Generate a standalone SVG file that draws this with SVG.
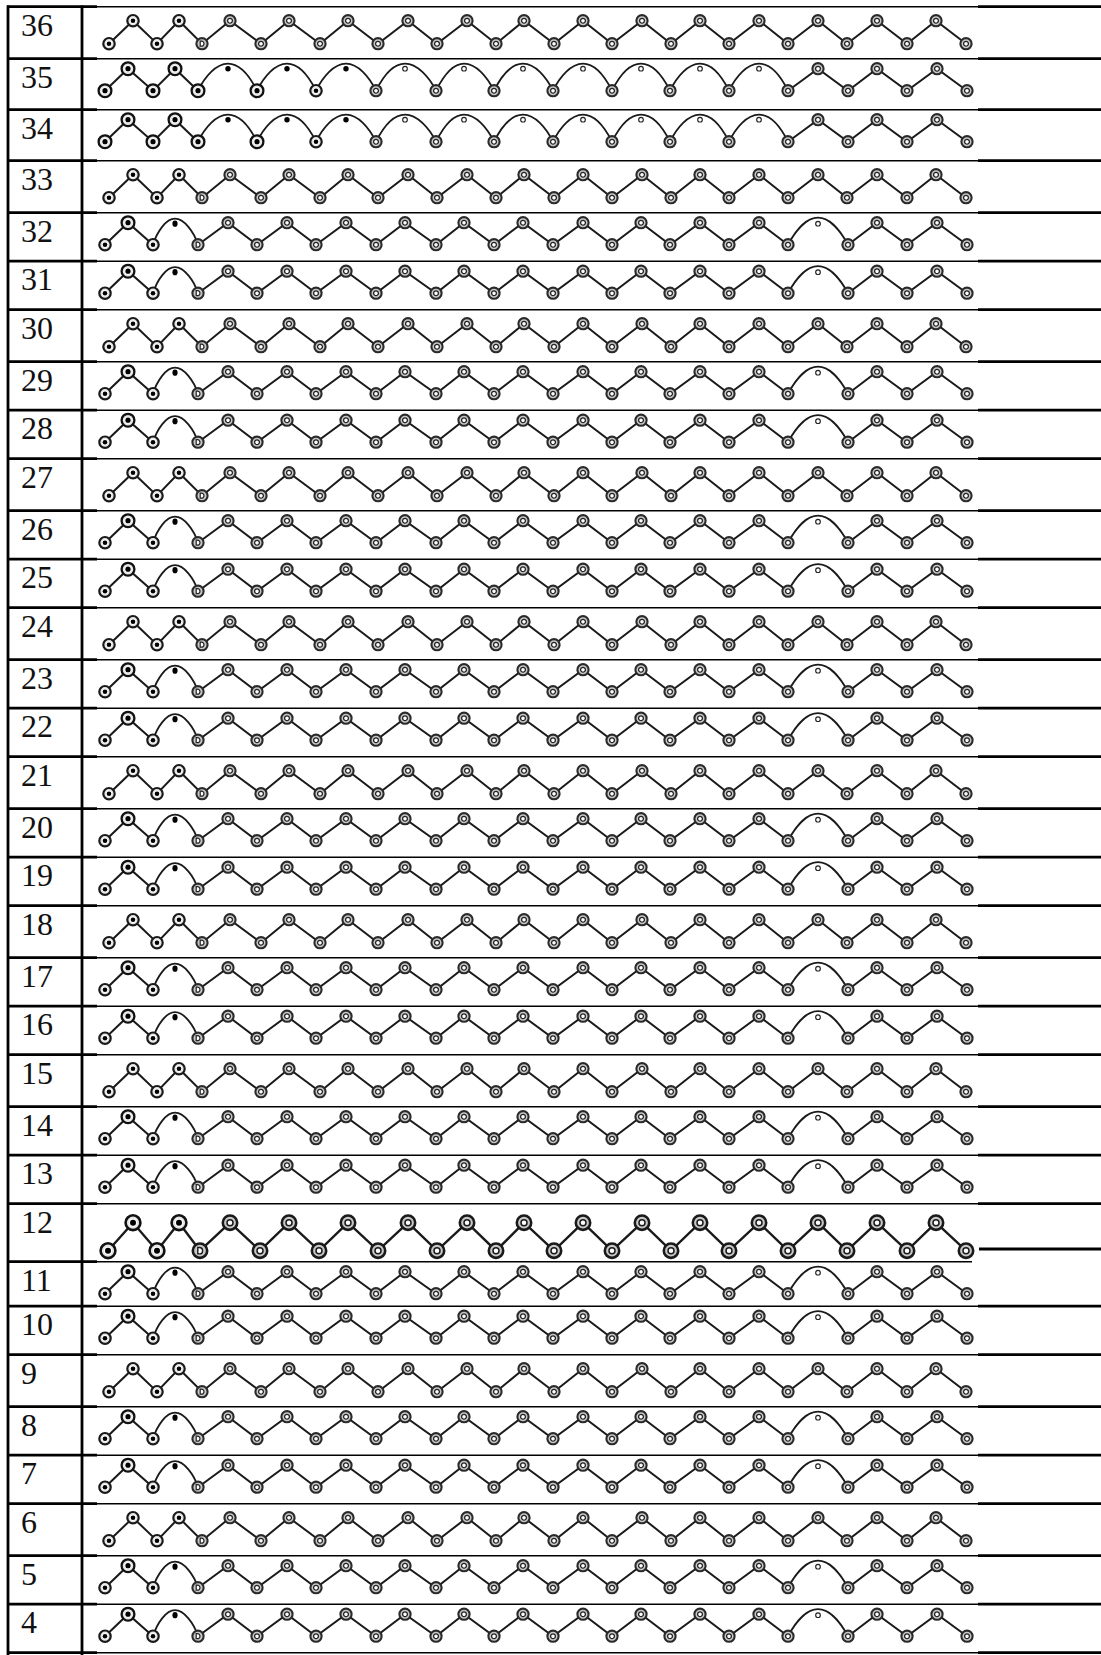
<svg xmlns="http://www.w3.org/2000/svg" xmlns:xlink="http://www.w3.org/1999/xlink" width="1101" height="1655" viewBox="0 0 1101 1655">
<style>
.lbl{font-family:"Liberation Serif","Times New Roman",serif;font-size:32px;fill:#111}
.zz{fill:none;stroke:#1a1a1a;stroke-width:2;stroke-linejoin:miter;stroke-linecap:round}
.zzb{fill:none;stroke:#1a1a1a;stroke-width:2.4;stroke-linejoin:miter;stroke-linecap:round}
.arc{fill:none;stroke:#1a1a1a;stroke-width:1.8}
.thin{stroke:#000;stroke-width:1.4;fill:none}
.thick{stroke:#000;stroke-width:2.8;fill:none}
</style>
<defs>
<g id="nF"><circle r="5.7" fill="#e6e6e6" stroke="#1a1a1a" stroke-width="2.2"/><circle r="3.1" fill="#fff"/><circle r="2.3" fill="#000"/></g>
<g id="nFL"><circle r="6.4" fill="#e6e6e6" stroke="#111" stroke-width="2.3"/><circle r="3.5" fill="#fff"/><circle r="2.6" fill="#000"/></g>
<g id="nR"><circle r="5.6" fill="#c8c8c8" stroke="#2a2a2a" stroke-width="2.1"/><circle r="2.4" fill="#fff" stroke="#222" stroke-width="1.3"/></g>
<g id="nD"><circle r="5.6" fill="#c8c8c8" stroke="#2a2a2a" stroke-width="2.1"/><path d="M-1.8,-2.5h1.3a2.5,2.5 0 0 1 0,5h-1.3z" fill="#fff" stroke="#222" stroke-width="1.2"/></g>
<g id="nFB"><circle r="7.4" fill="#e6e6e6" stroke="#111" stroke-width="2.6"/><circle r="4" fill="#fff"/><circle r="3" fill="#000"/></g>
<g id="nRB"><circle r="7.2" fill="#c8c8c8" stroke="#1a1a1a" stroke-width="2.6"/><circle r="3" fill="#fff" stroke="#1a1a1a" stroke-width="1.5"/></g>
<g id="nDB"><circle r="7.2" fill="#c8c8c8" stroke="#1a1a1a" stroke-width="2.6"/><path d="M-2.2,-3.2h1.6a3.2,3.2 0 0 1 0,6.4h-1.6z" fill="#fff" stroke="#1a1a1a" stroke-width="1.4"/></g>
<circle id="dR" r="2.3" fill="#fff" stroke="#222" stroke-width="1.2"/>
<circle id="dB" r="2.7" fill="#000"/>
<ellipse id="dT" rx="2.6" ry="3.1" fill="#000"/>

<g id="pPlain">
<polyline class="zz" points="109,37 133,14 157,37 179,14 202,37 230,14 261,37 289,14 320,37 348,14 378,37 408,14 437,37 467,14 496,37 524,14 554,37 583,14 612,37 642,14 671,37 700,14 729,37 759,14 788,37 818,14 847,37 877,14 907,37 936,14 966,37"/>
<use href="#nF" x="109" y="37"/><use href="#nF" x="133" y="14"/><use href="#nF" x="157" y="37"/><use href="#nF" x="179" y="14"/><use href="#nD" x="202" y="37"/>
<use href="#nR" x="230" y="14"/><use href="#nR" x="289" y="14"/><use href="#nR" x="348" y="14"/><use href="#nR" x="408" y="14"/><use href="#nR" x="467" y="14"/><use href="#nR" x="524" y="14"/><use href="#nR" x="583" y="14"/><use href="#nR" x="642" y="14"/><use href="#nR" x="700" y="14"/><use href="#nR" x="759" y="14"/><use href="#nR" x="818" y="14"/><use href="#nR" x="877" y="14"/><use href="#nR" x="936" y="14"/>
<use href="#nR" x="261" y="37"/><use href="#nR" x="320" y="37"/><use href="#nR" x="378" y="37"/><use href="#nR" x="437" y="37"/><use href="#nR" x="496" y="37"/><use href="#nR" x="554" y="37"/><use href="#nR" x="612" y="37"/><use href="#nR" x="671" y="37"/><use href="#nR" x="729" y="37"/><use href="#nR" x="788" y="37"/><use href="#nR" x="847" y="37"/><use href="#nR" x="907" y="37"/><use href="#nR" x="966" y="37"/>
</g>

<g id="pBig">
<polyline class="zzb" points="108,47 133,19 157,47 179,19 200,47 230,19 260,47 289,19 319,47 348,19 378,47 408,19 437,47 467,19 496,47 524,19 554,47 583,19 612,47 642,19 671,47 700,19 729,47 759,19 788,47 818,19 847,47 877,19 907,47 936,19 966,47"/>
<use href="#nFB" x="108" y="47"/><use href="#nFB" x="133" y="19"/><use href="#nFB" x="157" y="47"/><use href="#nFB" x="179" y="19"/><use href="#nDB" x="200" y="47"/>
<use href="#nRB" x="230" y="19"/><use href="#nRB" x="289" y="19"/><use href="#nRB" x="348" y="19"/><use href="#nRB" x="408" y="19"/><use href="#nRB" x="467" y="19"/><use href="#nRB" x="524" y="19"/><use href="#nRB" x="583" y="19"/><use href="#nRB" x="642" y="19"/><use href="#nRB" x="700" y="19"/><use href="#nRB" x="759" y="19"/><use href="#nRB" x="818" y="19"/><use href="#nRB" x="877" y="19"/><use href="#nRB" x="936" y="19"/>
<use href="#nRB" x="260" y="47"/><use href="#nRB" x="319" y="47"/><use href="#nRB" x="378" y="47"/><use href="#nRB" x="437" y="47"/><use href="#nRB" x="496" y="47"/><use href="#nRB" x="554" y="47"/><use href="#nRB" x="612" y="47"/><use href="#nRB" x="671" y="47"/><use href="#nRB" x="729" y="47"/><use href="#nRB" x="788" y="47"/><use href="#nRB" x="847" y="47"/><use href="#nRB" x="907" y="47"/><use href="#nRB" x="966" y="47"/>
</g>

<g id="pSA">
<polyline class="zz" points="105,32 128,10 153,32"/>
<path class="arc" d="M153,32C157,19 166,6 175,6C184,6 194,19 198,32"/>
<polyline class="zz" points="198,32 228,10 257,32 287,10 316,32 346,10 376,32 405,10 436,32 464,10 494,32 523,10 553,32 583,10 612,32 641,10 670,32 700,10 729,32 759,10 788,32"/>
<path class="arc" d="M788,32C795,19 806,5 818,5C830,5 841,19 848,32"/>
<polyline class="zz" points="848,32 877,10 907,32 937,10 967,32"/>
<use href="#nF" x="105" y="32"/><use href="#nFL" x="128" y="10"/><use href="#nF" x="153" y="32"/><use href="#dT" x="175" y="11"/><use href="#nD" x="198" y="32"/>
<use href="#nR" x="228" y="10"/><use href="#nR" x="287" y="10"/><use href="#nR" x="346" y="10"/><use href="#nR" x="405" y="10"/><use href="#nR" x="464" y="10"/><use href="#nR" x="523" y="10"/><use href="#nR" x="583" y="10"/><use href="#nR" x="641" y="10"/><use href="#nR" x="700" y="10"/><use href="#nR" x="759" y="10"/><use href="#dR" x="818" y="11"/><use href="#nR" x="877" y="10"/><use href="#nR" x="937" y="10"/>
<use href="#nR" x="257" y="32"/><use href="#nR" x="316" y="32"/><use href="#nR" x="376" y="32"/><use href="#nR" x="436" y="32"/><use href="#nR" x="494" y="32"/><use href="#nR" x="553" y="32"/><use href="#nR" x="612" y="32"/><use href="#nR" x="670" y="32"/><use href="#nR" x="729" y="32"/><use href="#nR" x="788" y="32"/><use href="#nR" x="848" y="32"/><use href="#nR" x="907" y="32"/><use href="#nR" x="967" y="32"/>
</g>

<g id="pMA">
<polyline class="zz" points="105,32 128,10 153,32 175,10 198,32"/>
<path class="arc" d="M198,32C205,18 216,5 228,5C240,5 250,18 257,32C264,18 275,5 287,5C299,5 309,18 316,32C323,18 334,5 346,5C358,5 369,18 376,32C383,18 393,5 405,5C417,5 429,18 436,32C443,18 452,5 464,5C476,5 487,18 494,32C501,18 511,5 523,5C535,5 546,18 553,32C560,18 571,5 583,5C595,5 605,18 612,32C619,18 629,5 641,5C653,5 663,18 670,32C677,18 688,5 700,5C712,5 722,18 729,32C736,18 747,5 759,5C771,5 781,18 788,32"/>
<polyline class="zz" points="788,32 818,10 848,32 877,10 907,32 937,10 967,32"/>
<use href="#nFL" x="105" y="32"/><use href="#nFL" x="128" y="10"/><use href="#nFL" x="153" y="32"/><use href="#nFL" x="175" y="10"/><use href="#nFL" x="198" y="32"/><use href="#nFL" x="257" y="32"/><use href="#nF" x="316" y="32"/>
<use href="#dB" x="228" y="10"/><use href="#dB" x="287" y="10"/><use href="#dB" x="346" y="10"/>
<use href="#dR" x="405" y="10"/><use href="#dR" x="464" y="10"/><use href="#dR" x="523" y="10"/><use href="#dR" x="583" y="10"/><use href="#dR" x="641" y="10"/><use href="#dR" x="700" y="10"/><use href="#dR" x="759" y="10"/>
<use href="#nR" x="376" y="32"/><use href="#nR" x="436" y="32"/><use href="#nR" x="494" y="32"/><use href="#nR" x="553" y="32"/><use href="#nR" x="612" y="32"/><use href="#nR" x="670" y="32"/><use href="#nR" x="729" y="32"/><use href="#nR" x="788" y="32"/><use href="#nR" x="848" y="32"/><use href="#nR" x="907" y="32"/><use href="#nR" x="967" y="32"/>
<use href="#nR" x="818" y="10"/><use href="#nR" x="877" y="10"/><use href="#nR" x="937" y="10"/>
</g>
</defs>

<rect width="1101" height="1655" fill="#fff"/>

<g id="grid">
<path class="thin" d="M7,6.7H980M7,58.7H980M7,109.7H980M7,160.7H980M7,212.7H980M7,261.2H980M7,309.7H980M7,361.7H980M7,410.2H980M7,458.7H980M7,510.7H980M7,559.2H980M7,607.7H980M7,659.7H980M7,708.2H980M7,756.7H980M7,808.7H980M7,857.2H980M7,905.7H980M7,957.7H980M7,1006.2H980M7,1054.7H980M7,1106.7H980M7,1155.2H980M7,1203.7H980M7,1261.7H972M7,1306.2H980M7,1354.7H980M7,1406.7H980M7,1455.2H980M7,1503.7H980M7,1555.7H980M7,1604.2H980M7,1652.7H980"/>
<path class="thick" d="M7,6.7H97M978,6.7H1101M7,58.7H97M978,58.7H1101M7,109.7H97M978,109.7H1101M7,160.7H97M978,160.7H1101M7,212.7H97M978,212.7H1101M7,261.2H97M978,261.2H1101M7,309.7H97M978,309.7H1101M7,361.7H97M978,361.7H1101M7,410.2H97M978,410.2H1101M7,458.7H97M978,458.7H1101M7,510.7H97M978,510.7H1101M7,559.2H97M978,559.2H1101M7,607.7H97M978,607.7H1101M7,659.7H97M978,659.7H1101M7,708.2H97M978,708.2H1101M7,756.7H97M978,756.7H1101M7,808.7H97M978,808.7H1101M7,857.2H97M978,857.2H1101M7,905.7H97M978,905.7H1101M7,957.7H97M978,957.7H1101M7,1006.2H97M978,1006.2H1101M7,1054.7H97M978,1054.7H1101M7,1106.7H97M978,1106.7H1101M7,1155.2H97M978,1155.2H1101M7,1203.7H97M978,1203.7H1101M7,1261.7H97M979,1249H1101M7,1306.2H97M978,1306.2H1101M7,1354.7H97M978,1354.7H1101M7,1406.7H97M978,1406.7H1101M7,1455.2H97M978,1455.2H1101M7,1503.7H97M978,1503.7H1101M7,1555.7H97M978,1555.7H1101M7,1604.2H97M978,1604.2H1101M7,1652.7H97M978,1652.7H1101"/>
<path class="thick" d="M8,5.5V1655M82,5.5V1655"/>
</g>

<g id="row-36"><text class="lbl" x="21" y="35.7">36</text><use href="#pPlain" transform="translate(0,6.7)"/></g>
<g id="row-35"><text class="lbl" x="21" y="87.7">35</text><use href="#pMA" transform="translate(0,58.7)"/></g>
<g id="row-34"><text class="lbl" x="21" y="138.7">34</text><use href="#pMA" transform="translate(0,109.7)"/></g>
<g id="row-33"><text class="lbl" x="21" y="189.7">33</text><use href="#pPlain" transform="translate(0,160.7)"/></g>
<g id="row-32"><text class="lbl" x="21" y="241.7">32</text><use href="#pSA" transform="translate(0,212.7)"/></g>
<g id="row-31"><text class="lbl" x="21" y="290.2">31</text><use href="#pSA" transform="translate(0,261.2)"/></g>
<g id="row-30"><text class="lbl" x="21" y="338.7">30</text><use href="#pPlain" transform="translate(0,309.7)"/></g>
<g id="row-29"><text class="lbl" x="21" y="390.7">29</text><use href="#pSA" transform="translate(0,361.7)"/></g>
<g id="row-28"><text class="lbl" x="21" y="439.2">28</text><use href="#pSA" transform="translate(0,410.2)"/></g>
<g id="row-27"><text class="lbl" x="21" y="487.7">27</text><use href="#pPlain" transform="translate(0,458.7)"/></g>
<g id="row-26"><text class="lbl" x="21" y="539.7">26</text><use href="#pSA" transform="translate(0,510.7)"/></g>
<g id="row-25"><text class="lbl" x="21" y="588.2">25</text><use href="#pSA" transform="translate(0,559.2)"/></g>
<g id="row-24"><text class="lbl" x="21" y="636.7">24</text><use href="#pPlain" transform="translate(0,607.7)"/></g>
<g id="row-23"><text class="lbl" x="21" y="688.7">23</text><use href="#pSA" transform="translate(0,659.7)"/></g>
<g id="row-22"><text class="lbl" x="21" y="737.2">22</text><use href="#pSA" transform="translate(0,708.2)"/></g>
<g id="row-21"><text class="lbl" x="21" y="785.7">21</text><use href="#pPlain" transform="translate(0,756.7)"/></g>
<g id="row-20"><text class="lbl" x="21" y="837.7">20</text><use href="#pSA" transform="translate(0,808.7)"/></g>
<g id="row-19"><text class="lbl" x="21" y="886.2">19</text><use href="#pSA" transform="translate(0,857.2)"/></g>
<g id="row-18"><text class="lbl" x="21" y="934.7">18</text><use href="#pPlain" transform="translate(0,905.7)"/></g>
<g id="row-17"><text class="lbl" x="21" y="986.7">17</text><use href="#pSA" transform="translate(0,957.7)"/></g>
<g id="row-16"><text class="lbl" x="21" y="1035.2">16</text><use href="#pSA" transform="translate(0,1006.2)"/></g>
<g id="row-15"><text class="lbl" x="21" y="1083.7">15</text><use href="#pPlain" transform="translate(0,1054.7)"/></g>
<g id="row-14"><text class="lbl" x="21" y="1135.7">14</text><use href="#pSA" transform="translate(0,1106.7)"/></g>
<g id="row-13"><text class="lbl" x="21" y="1184.2">13</text><use href="#pSA" transform="translate(0,1155.2)"/></g>
<g id="row-12"><text class="lbl" x="21" y="1232.7">12</text><use href="#pBig" transform="translate(0,1203.7)"/></g>
<g id="row-11"><text class="lbl" x="21" y="1290.7">11</text><use href="#pSA" transform="translate(0,1261.7)"/></g>
<g id="row-10"><text class="lbl" x="21" y="1335.2">10</text><use href="#pSA" transform="translate(0,1306.2)"/></g>
<g id="row-9"><text class="lbl" x="21" y="1383.7">9</text><use href="#pPlain" transform="translate(0,1354.7)"/></g>
<g id="row-8"><text class="lbl" x="21" y="1435.7">8</text><use href="#pSA" transform="translate(0,1406.7)"/></g>
<g id="row-7"><text class="lbl" x="21" y="1484.2">7</text><use href="#pSA" transform="translate(0,1455.2)"/></g>
<g id="row-6"><text class="lbl" x="21" y="1532.7">6</text><use href="#pPlain" transform="translate(0,1503.7)"/></g>
<g id="row-5"><text class="lbl" x="21" y="1584.7">5</text><use href="#pSA" transform="translate(0,1555.7)"/></g>
<g id="row-4"><text class="lbl" x="21" y="1633.2">4</text><use href="#pSA" transform="translate(0,1604.2)"/></g>
</svg>
